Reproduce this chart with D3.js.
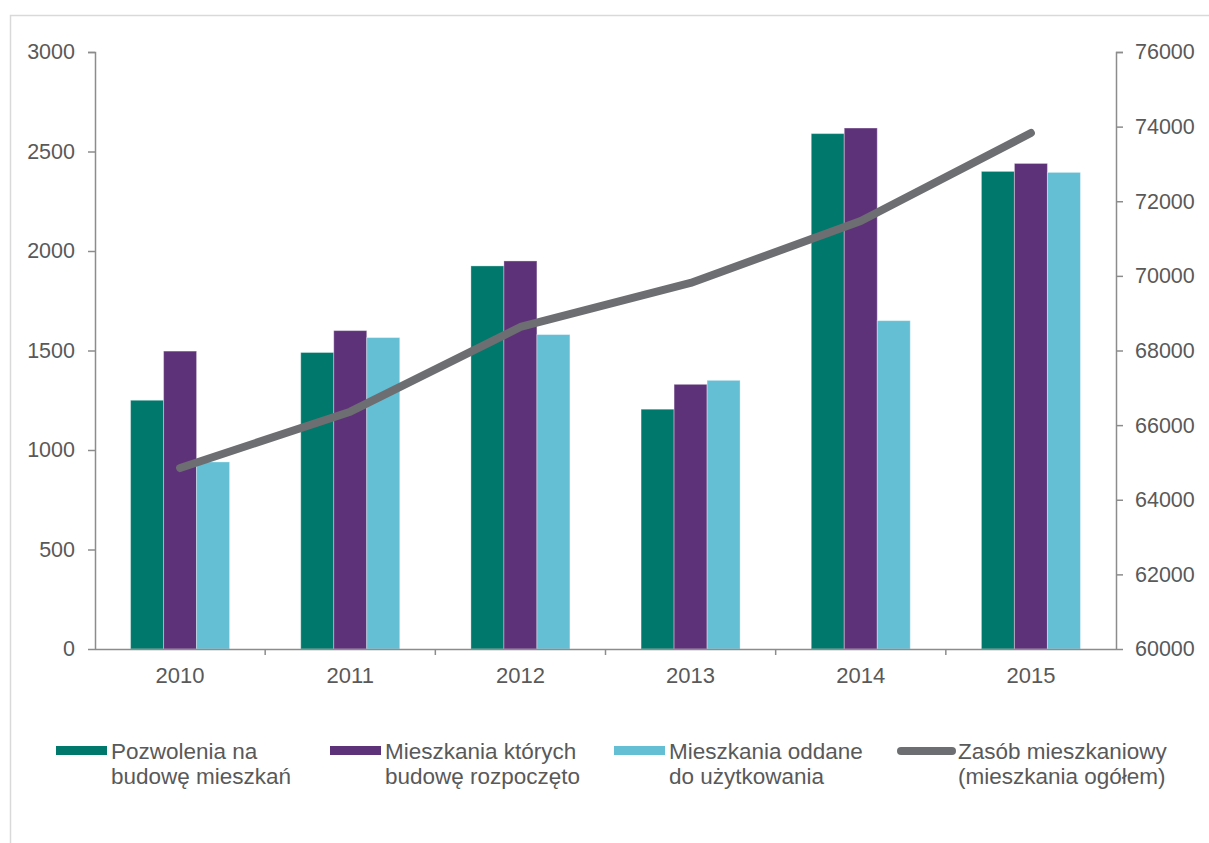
<!DOCTYPE html>
<html>
<head>
<meta charset="utf-8">
<script src="https://cdn.jsdelivr.net/npm/d3@7"></script>
<style>
  html, body { margin: 0; padding: 0; background: #fff; }
  svg { display: block; font-family: "Liberation Sans", Arial, sans-serif; }
</style>
</head>
<body>
<svg id="chart" width="1209" height="843"></svg>
<script>
// Housing statistics 2010–2015
const years = ["2010", "2011", "2012", "2013", "2014", "2015"];
const permits = [1250, 1490, 1925, 1205, 2590, 2400];      // Pozwolenia na budowę mieszkań
const started = [1497, 1600, 1950, 1330, 2618, 2440];      // Mieszkania których budowę rozpoczęto
const completed = [940, 1565, 1580, 1350, 1650, 2395];     // Mieszkania oddane do użytkowania
const stock = [64850, 66360, 68630, 69810, 71470, 73830];  // Zasób mieszkaniowy (mieszkania ogółem)

const leftTicks = [0, 500, 1000, 1500, 2000, 2500, 3000];
const rightTicks = [60000, 62000, 64000, 66000, 68000, 70000, 72000, 74000, 76000];

const barSeries = [
  { name: ["Pozwolenia na", "budowę mieszkań"], values: permits, color: "#00786c" },
  { name: ["Mieszkania których", "budowę rozpoczęto"], values: started, color: "#5e3279" },
  { name: ["Mieszkania oddane", "do użytkowania"], values: completed, color: "#64bed4" }
];
const lineSeries = { name: ["Zasób mieszkaniowy", "(mieszkania ogółem)"], values: stock, color: "#6d6e71" };

const svg = d3.select("#chart");
const plot = { left: 95, right: 1116, top: 52, bottom: 649 };

// outer frame
svg.append("path")
  .attr("d", `M10.5,843 L10.5,15.5 L1209,15.5`)
  .attr("fill", "none").attr("stroke", "#d9d9d9").attr("stroke-width", 1.5);

const x = d3.scaleBand().domain(years).range([plot.left, plot.right]);
const groupW = 99;
const xs = d3.scaleBand().domain(d3.range(barSeries.length))
  .range([0, groupW]);
const yL = d3.scaleLinear().domain([0, 3000]).range([plot.bottom, plot.top]);
const yR = d3.scaleLinear().domain([60000, 76000]).range([plot.bottom, plot.top]);

// bars
barSeries.forEach((s, i) => {
  svg.append("g").selectAll("rect")
    .data(s.values)
    .join("rect")
    .attr("x", (d, j) => x(years[j]) + (x.bandwidth() - groupW) / 2 + xs(i))
    .attr("y", d => yL(d))
    .attr("width", xs.bandwidth())
    .attr("height", d => yL(0) - yL(d))
    .attr("fill", s.color)
    .attr("stroke", "#ffffff").attr("stroke-opacity", 0.35).attr("stroke-width", 1);
});

const axisColor = "#8c8c8c";
const labelColor = "#595959";

// left axis
const gL = svg.append("g").attr("transform", `translate(${plot.left},0)`)
  .call(d3.axisLeft(yL).tickValues(leftTicks).tickSize(7).tickPadding(13).tickFormat(d3.format("d")));
// right axis
const gR = svg.append("g").attr("transform", `translate(${plot.right},0)`)
  .call(d3.axisRight(yR).tickValues(rightTicks).tickSize(7).tickPadding(12).tickFormat(d3.format("d")));
// bottom axis: ticks between categories
const gB = svg.append("g").attr("transform", `translate(0,${plot.bottom})`)
  .call(d3.axisBottom(x).tickSize(0).tickPadding(18));
gB.append("g").selectAll("line")
  .data(years.slice(1))
  .join("line")
  .attr("x1", d => x(d)).attr("x2", d => x(d))
  .attr("y1", 0).attr("y2", 6)
  .attr("stroke", axisColor).attr("stroke-width", 1.5);

[gL, gR, gB].forEach(g => {
  g.select(".domain").attr("stroke", axisColor).attr("stroke-width", 1.5);
  g.selectAll(".tick line").attr("stroke", axisColor).attr("stroke-width", 1.5);
  g.selectAll("text").attr("fill", labelColor).attr("font-size", 21.5)
    .attr("font-family", "'Liberation Sans', Arial, sans-serif");
});
gB.selectAll("text").attr("font-size", 22);
gL.select(".domain").attr("d", `M-7,${plot.top + 0.5}H0.5V${plot.bottom}`);
gR.select(".domain").attr("d", `M7,${plot.top + 0.5}H0.5V${plot.bottom}`);
gB.select(".domain").attr("d", `M${plot.left},0.5H${plot.right}`);

// line series on right axis
const line = d3.line()
  .x((d, j) => x(years[j]) + x.bandwidth() / 2)
  .y(d => yR(d));
svg.append("path")
  .datum(lineSeries.values)
  .attr("d", line)
  .attr("fill", "none")
  .attr("stroke", lineSeries.color)
  .attr("stroke-width", 8)
  .attr("stroke-linecap", "round")
  .attr("stroke-linejoin", "round");

// legend
const legendX = [56, 330, 614, 897];
const legend = svg.append("g").attr("font-size", 22.5).attr("fill", labelColor);
const allSeries = [...barSeries, lineSeries];
allSeries.forEach((s, i) => {
  const g = legend.append("g").attr("transform", `translate(${legendX[i]},0)`);
  if (i < barSeries.length) {
    g.append("rect").attr("x", 0).attr("y", 746).attr("width", 51).attr("height", 9).attr("fill", s.color);
  } else {
    g.append("line").attr("x1", 4).attr("x2", 55).attr("y1", 751).attr("y2", 751)
      .attr("stroke", s.color).attr("stroke-width", 8).attr("stroke-linecap", "round");
  }
  const tx = i < barSeries.length ? 55 : 61;
  const t = g.append("text").attr("x", tx).attr("y", 759).attr("fill", labelColor);
  s.name.forEach((ln, k) => {
    t.append("tspan").attr("x", tx).attr("dy", k === 0 ? 0 : 25).text(ln);
  });
});
</script>
</body>
</html>
